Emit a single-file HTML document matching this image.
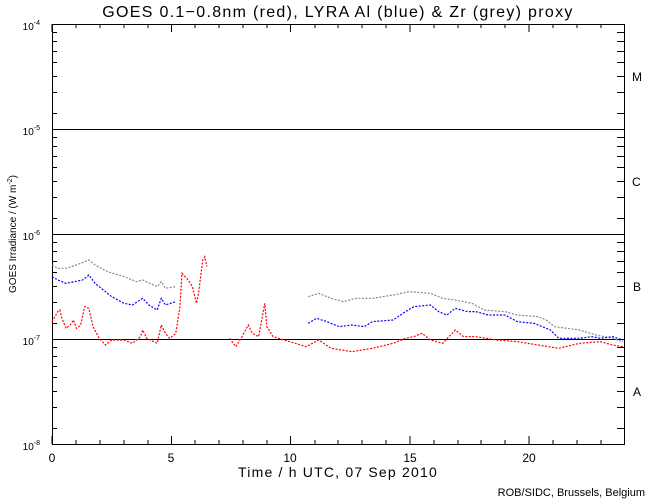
<!DOCTYPE html>
<html><head><style>
body{margin:0;background:#fff}
svg{display:block;font-family:"Liberation Sans",sans-serif}
</style></head><body>
<svg width="650" height="500" xmlns="http://www.w3.org/2000/svg">
<rect width="650" height="500" fill="#fff"/>
<text x="338" y="17" font-size="16" letter-spacing="1.3" text-anchor="middle">GOES 0.1−0.8nm (red), LYRA Al (blue) &amp; Zr (grey) proxy</text>
<g stroke="#000" stroke-width="1" fill="none">
<rect x="52.5" y="24.5" width="572" height="420"/>
<line x1="52" y1="129.5" x2="625" y2="129.5"/>
<line x1="52" y1="234.5" x2="625" y2="234.5"/>
<line x1="52" y1="339.5" x2="625" y2="339.5"/>
</g>
<g font-size="12" text-anchor="middle">
<text x="52" y="462">0</text><text x="171" y="462">5</text><text x="290" y="462">10</text><text x="410" y="462">15</text><text x="529" y="462">20</text>
<text x="338" y="477" font-size="14" letter-spacing="1.2">Time / h UTC, 07 Sep 2010</text>
</g>
<g font-size="10" text-anchor="end">
<text x="40" y="30">10<tspan font-size="7" dy="-5">-4</tspan></text>
<text x="40" y="135">10<tspan font-size="7" dy="-5">-5</tspan></text>
<text x="40" y="240">10<tspan font-size="7" dy="-5">-6</tspan></text>
<text x="40" y="345">10<tspan font-size="7" dy="-5">-7</tspan></text>
<text x="40" y="450">10<tspan font-size="7" dy="-5">-8</tspan></text>
</g>
<text transform="translate(16,234) rotate(-90)" font-size="10" text-anchor="middle">GOES Irradiance / (W m<tspan font-size="7" dy="-4">-2</tspan><tspan dy="4">)</tspan></text>
<g font-size="12">
<text x="632" y="81">M</text><text x="632" y="186">C</text><text x="633" y="291">B</text><text x="633" y="396">A</text>
</g>
<text x="645" y="496" font-size="11" text-anchor="end">ROB/SIDC, Brussels, Belgium</text>
<g transform="translate(-0.16,240) scale(0.414,0.3333)" fill="none" stroke-width="1.2" stroke-dasharray="2 1.5">
<polyline vector-effect="non-scaling-stroke" stroke="#888" points="126,75 140,85 160,85 185,75 215,60 230,75 260,95 300,110 330,125 345,120 380,140 390,125 400,145 425,140"/>
<polyline vector-effect="non-scaling-stroke" stroke="#888" points="745,170 770,160 800,175 830,185 860,175 900,175 950,165 990,155 1040,160 1070,175 1100,180 1140,190 1170,210 1220,215 1250,225 1300,230 1320,240 1340,260 1400,270 1440,285 1480,295 1505,305"/>
<polyline vector-effect="non-scaling-stroke" stroke="#00f" points="126,110 140,120 160,130 180,125 200,120 215,105 230,130 250,150 270,170 300,190 320,195 345,175 360,195 380,210 390,175 400,195 425,185"/>
<polyline vector-effect="non-scaling-stroke" stroke="#00f" points="745,250 765,235 790,245 820,260 850,255 880,260 900,245 950,240 980,215 1000,200 1040,195 1060,215 1080,225 1100,205 1130,215 1150,215 1180,225 1220,225 1250,245 1290,250 1310,260 1330,270 1350,295 1400,295 1430,290 1450,295 1480,290 1505,300"/>
<polyline vector-effect="non-scaling-stroke" stroke="#f00" points="126,245 140,215 145,210 150,235 160,265 170,255 178,240 185,265 195,255 205,200 215,205 225,260 240,295 255,315 270,300 300,300 320,310 340,290 345,270 355,295 380,310 390,255 400,280 410,295 425,280 435,200 440,100 455,120 465,140 475,190 480,160 490,60 495,50 500,80"/>
<polyline vector-effect="non-scaling-stroke" stroke="#f00" points="555,295 570,320 585,290 600,255 610,280 625,290 640,190 645,260 660,290 700,305 740,320 770,300 800,325 850,335 900,325 950,310 980,295 1000,290 1020,280 1040,300 1070,310 1100,270 1120,290 1150,290 1200,300 1250,305 1300,315 1350,325 1400,310 1450,305 1480,315 1505,320"/>
</g>
<g stroke="#000">
<path d="M52,24v8M171.5,24v8M290.5,24v8M410,24v8M529,24v8M52,444v-8M171.5,444v-8M290.5,444v-8M410,444v-8M529,444v-8"/>
<path d="M76,24v4M100,24v4M124,24v4M148,24v4M195,24v4M219,24v4M243,24v4M267,24v4M315,24v4M338,24v4M362,24v4M386,24v4M434,24v4M458,24v4M481,24v4M505,24v4M553,24v4M577,24v4M601,24v4
M76,444v-4M100,444v-4M124,444v-4M148,444v-4M195,444v-4M219,444v-4M243,444v-4M267,444v-4M315,444v-4M338,444v-4M362,444v-4M386,444v-4M434,444v-4M458,444v-4M481,444v-4M505,444v-4M553,444v-4M577,444v-4M601,444v-4"/>
<path d="M52,76.5h5M52,113.5h5M52,92.5h5M52,62.5h5M52,51.5h5M52,41.5h5M52,32.5h5
M52,181.5h5M52,218.5h5M52,197.5h5M52,167.5h5M52,156.5h5M52,146.5h5M52,137.5h5
M52,286.5h5M52,323.5h5M52,302.5h5M52,272.5h5M52,261.5h5M52,251.5h5M52,242.5h5
M52,391.5h5M52,428.5h5M52,407.5h5M52,377.5h5M52,366.5h5M52,356.5h5M52,347.5h5
M625,76.5h-8M625,113.5h-8M625,92.5h-8M625,62.5h-8M625,51.5h-8M625,41.5h-8M625,32.5h-8
M625,181.5h-8M625,218.5h-8M625,197.5h-8M625,167.5h-8M625,156.5h-8M625,146.5h-8M625,137.5h-8
M625,286.5h-8M625,323.5h-8M625,302.5h-8M625,272.5h-8M625,261.5h-8M625,251.5h-8M625,242.5h-8
M625,391.5h-8M625,428.5h-8M625,407.5h-8M625,377.5h-8M625,366.5h-8M625,356.5h-8M625,347.5h-8"/>
</g>
</svg>
</body></html>
